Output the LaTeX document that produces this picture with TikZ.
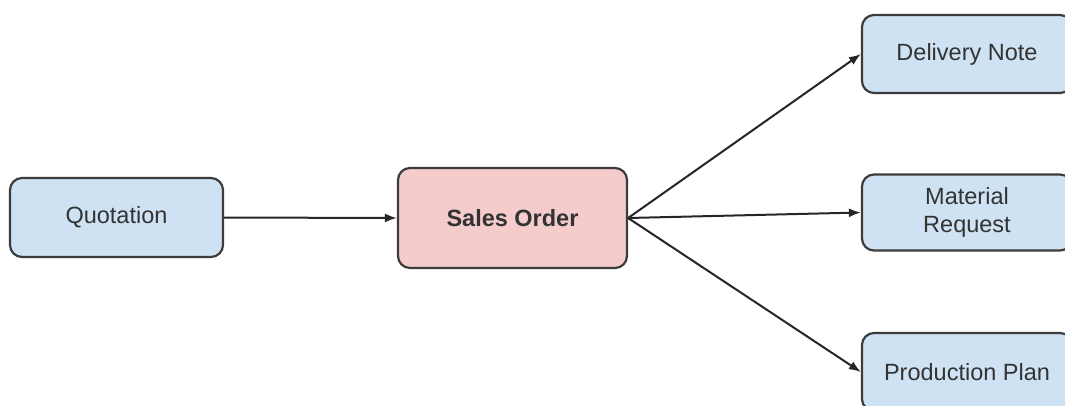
\documentclass[tikz,border=0pt]{standalone}
\usepackage{fontspec}
\setmainfont{Liberation Sans}
\usetikzlibrary{arrows.meta}
\definecolor{boxblue}{HTML}{CFE2F3}
\definecolor{boxpink}{HTML}{F4CCCC}
\definecolor{boxline}{HTML}{3C3C3C}
\definecolor{txt}{HTML}{333333}
\tikzset{
  box/.style={draw=boxline, line width=2.2pt, rounded corners=12pt, fill=boxblue,
    text=txt, align=center, inner sep=0pt, font=\fontsize{23.5}{28}\selectfont},
  conn/.style={draw=black!85, line width=2pt, -{Latex[length=12pt,width=9pt]}}
}
\begin{document}
\begin{tikzpicture}[x=1pt,y=-1pt]
\useasboundingbox (0,0) rectangle (1065,405);
\clip (0,0) rectangle (1065,405);
\fill[white] (0,0) rectangle (1065,405);
\node[box, minimum width=213pt, minimum height=79pt] (q) at (116.5,217.5) {Quotation};
\node[box, fill=boxpink, minimum width=229pt, minimum height=100pt, font=\fontsize{23.5}{28}\selectfont\bfseries] (so) at (512.5,218) {Sales Order};
\node[box, minimum width=210pt, minimum height=78pt] (dn) at (967,54) {Delivery Note};
\node[box, minimum width=210pt, minimum height=76pt] (mr) at (967,212.5) {Material\\Request};
\node[box, minimum width=210pt, minimum height=78pt] (pp) at (967,372) {Production Plan};
\draw[conn] (q.east) -- (so.west);
\draw[conn] (so.east) -- (dn.west);
\draw[conn] (so.east) -- (mr.west);
\draw[conn] (so.east) -- (pp.west);
\end{tikzpicture}
\end{document}
